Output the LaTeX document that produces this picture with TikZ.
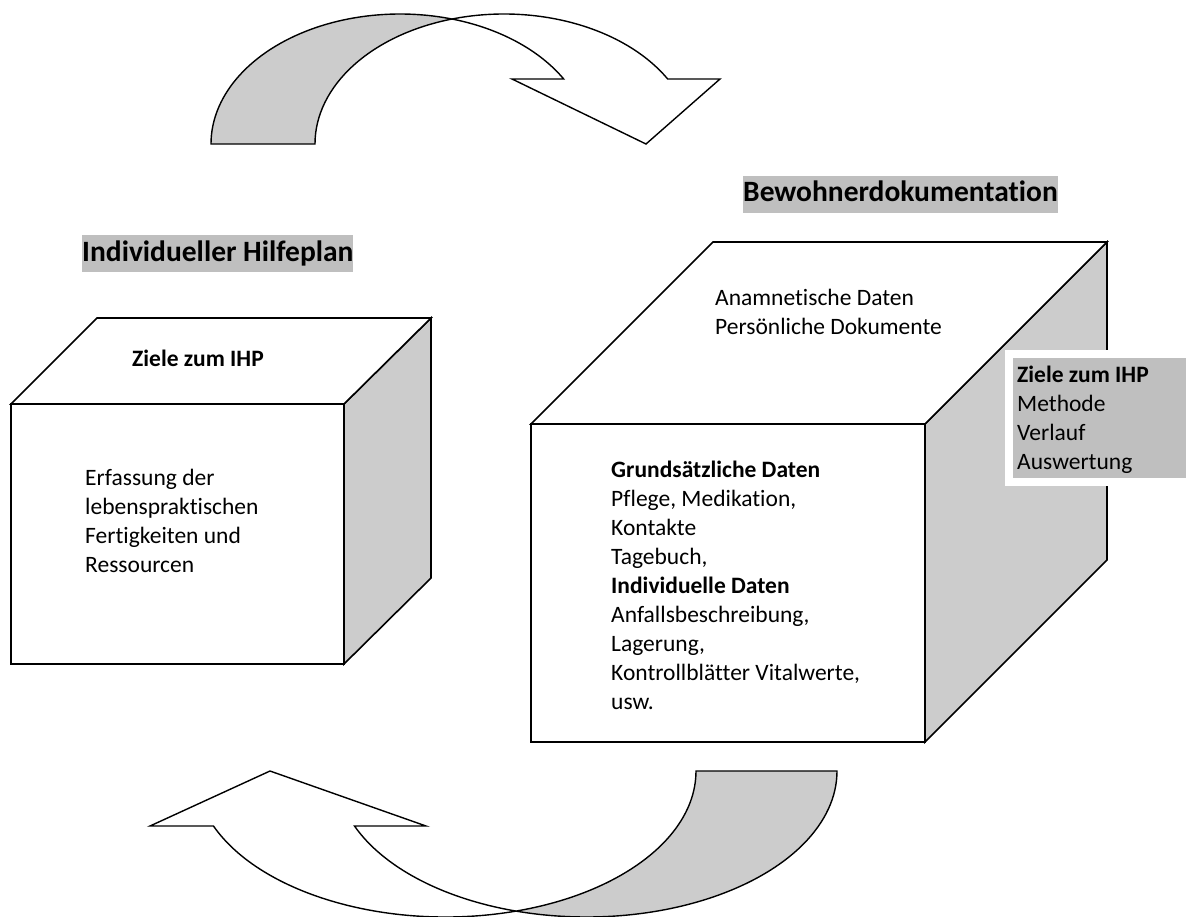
\documentclass[tikz,border=0pt]{standalone}
\usepackage{fontspec}
\setmainfont{Carlito}[RawFeature={-liga;-clig;-calt}]
\definecolor{sidegray}{RGB}{204,204,204}
\definecolor{hlgray}{RGB}{191,191,191}
\newcommand{\firstln}{\rule{0pt}{19pt}}
\begin{document}
\begin{tikzpicture}[x=1pt,y=1pt,line join=miter,
  edge/.style={draw=black,line width=1.6pt},
  arrowline/.style={draw=black,line width=1.4pt},
  body/.style={font=\fontsize{23.5}{29}\selectfont,inner sep=0pt,align=left,anchor=north west},
  head/.style={font=\fontsize{29.5}{34}\selectfont\bfseries,fill=hlgray,inner xsep=0pt,inner ysep=0pt,text height=26pt,text depth=11pt}]
\useasboundingbox (0,0) rectangle (1186,-916);
\fill[white] (0,0) rectangle (1186,-916);

% ---- top curved arrow ----
\path (400,-144) ++(74.03:189pt and 130pt) coordinate (I1);
\filldraw[arrowline,fill=sidegray] (211,-144)
  arc[start angle=180,end angle=74.03,x radius=189pt,y radius=130pt]
  arc[start angle=105.97,end angle=180,x radius=189pt,y radius=130pt] -- cycle;
\filldraw[arrowline,fill=white] (I1)
  arc[start angle=105.97,end angle=30,x radius=189pt,y radius=130pt]
  -- (720,-79) -- (646,-144) -- (512,-79) -- (563.7,-79)
  arc[start angle=30,end angle=74.03,x radius=189pt,y radius=130pt] -- cycle;

% ---- bottom curved arrow ----
\path (445.5,-771) ++(-73.65:250.5pt and 146pt) coordinate (I2);
\filldraw[arrowline,fill=sidegray] (837,-771)
  arc[start angle=0,end angle=-106.35,x radius=250.5pt,y radius=146pt]
  arc[start angle=-73.65,end angle=0,x radius=250.5pt,y radius=146pt] -- cycle;
\filldraw[arrowline,fill=white] (I2)
  arc[start angle=-73.65,end angle=-157.87,x radius=250.5pt,y radius=146pt]
  -- (150,-826) -- (270,-771) -- (426,-826) -- (354.5,-826)
  arc[start angle=-157.87,end angle=-106.35,x radius=250.5pt,y radius=146pt] -- cycle;

% ---- left cube ----
\filldraw[edge,fill=sidegray] (344,-404) -- (431,-318) -- (431,-578) -- (344,-664) -- cycle;
\filldraw[edge,fill=white] (11,-404) -- (97,-318) -- (431,-318) -- (344,-404) -- cycle;
\filldraw[edge,fill=white] (11,-404) rectangle (344,-664);

% ---- right cube ----
\filldraw[edge,fill=sidegray] (925,-424) -- (1107,-242) -- (1107,-560) -- (925,-742) -- cycle;
\filldraw[edge,fill=white] (531,-424) -- (713,-242) -- (1107,-242) -- (925,-424) -- cycle;
\filldraw[edge,fill=white] (531,-424) rectangle (925,-742);

% ---- side box ----
\fill[white] (1005,-350) rectangle (1186,-486);
\fill[hlgray] (1013,-358) rectangle (1186,-478);

% ---- headers ----
\node[head,anchor=west] (hilfe) at (82,-253.5) {Individueller Hilfeplan};
\node[head,anchor=east] (bewohner) at (1058,-194) {Bewohnerdokumentation};

% ---- texts ----
\node[body] (lefttop) at (132,-347) {\firstln\textbf{Ziele zum IHP}};
\node[body] (leftfront) at (85,-466) {\firstln Erfassung der\\lebenspraktischen\\Fertigkeiten und\\Ressourcen};
\node[body] (righttop) at (715,-286) {\firstln Anamnetische Daten\\Persönliche Dokumente};
\node[body] (rightfront) at (611,-458) {\firstln\textbf{Grundsätzliche Daten}\\Pflege, Medikation,\\Kontakte\\Tagebuch,\\\textbf{Individuelle Daten}\\Anfallsbeschreibung,\\Lagerung,\\Kontrollblätter Vitalwerte,\\usw.};
\node[body] (sidebox) at (1017,-363) {\firstln\textbf{Ziele zum IHP}\\Methode\\Verlauf\\Auswertung};
\end{tikzpicture}
\end{document}
